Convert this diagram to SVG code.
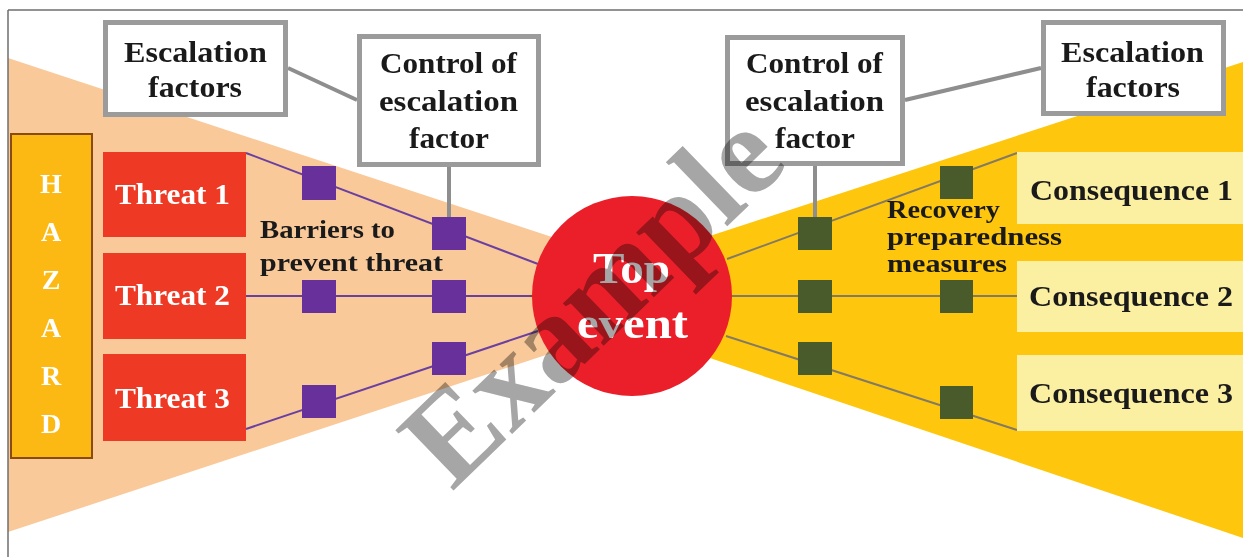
<svg xmlns="http://www.w3.org/2000/svg" width="1243" height="557" viewBox="0 0 1243 557">
<style>
  .t { font-family: "Liberation Serif", "Times New Roman", serif; font-weight: bold; }
  .blk { fill: #1a1a1a; }
  .wht { fill: #ffffff; }
  .gbox { fill: #ffffff; stroke: #9b9b9b; stroke-width: 5; }
  .gline { stroke: #8e8e8e; stroke-width: 4; fill: none; }
  .pline { stroke: #6b3fa0; stroke-width: 2; fill: none; }
  .oline { stroke: #847a62; stroke-width: 2; fill: none; }
  .psq { fill: #67309b; }
  .osq { fill: #4a5b2b; }
  .threat { fill: #ee3a24; }
  .cons { fill: #fbefa2; }
</style>
<rect x="0" y="0" width="1243" height="557" fill="#ffffff"/>
<g id="background">
  <polygon points="8,58 728,295 8,532" fill="#f9c99a"/>
  <polygon points="1243,62 526,296 1243,538" fill="#fec70d"/>
  <line x1="8" y1="10" x2="1243" y2="10" stroke="#6e6e6e" stroke-width="1.5"/>
  <line x1="8" y1="10" x2="8" y2="557" stroke="#6e6e6e" stroke-width="1.5"/>
</g>
<g id="connectors">
  <line class="gline" x1="288" y1="68" x2="357" y2="100"/>
  <line class="gline" x1="449" y1="166" x2="449" y2="218"/>
  <line class="gline" x1="905" y1="100" x2="1041" y2="68"/>
  <line class="gline" x1="815" y1="164" x2="815" y2="218"/>
  <line class="pline" x1="246" y1="153" x2="538" y2="264"/>
  <line class="pline" x1="246" y1="296" x2="534" y2="296"/>
  <line class="pline" x1="246" y1="429" x2="538" y2="331"/>
  <line class="oline" x1="727" y1="259" x2="1017" y2="153"/>
  <line class="oline" x1="731" y1="296" x2="1017" y2="296"/>
  <line class="oline" x1="726" y1="336" x2="1017" y2="430"/>
</g>
<g id="hazard">
  <rect x="11" y="134" width="81" height="324" fill="#fdb913" stroke="#8a4b12" stroke-width="2"/>
  <g class="t wht" font-size="28" text-anchor="middle">
    <text x="51" y="193">H</text>
    <text x="51" y="241">A</text>
    <text x="51" y="289">Z</text>
    <text x="51" y="337">A</text>
    <text x="51" y="385">R</text>
    <text x="51" y="433">D</text>
  </g>
</g>
<g id="threat1">
  <rect class="threat" x="103" y="152" width="143" height="85"/>
  <text class="t wht" x="115" y="204" font-size="30" textLength="115" lengthAdjust="spacingAndGlyphs">Threat 1</text>
</g>
<g id="threat2">
  <rect class="threat" x="103" y="253" width="143" height="86"/>
  <text class="t wht" x="115" y="305" font-size="30" textLength="115" lengthAdjust="spacingAndGlyphs">Threat 2</text>
</g>
<g id="threat3">
  <rect class="threat" x="103" y="354" width="143" height="87"/>
  <text class="t wht" x="115" y="408" font-size="30" textLength="115" lengthAdjust="spacingAndGlyphs">Threat 3</text>
</g>
<g id="barriers">
  <rect class="psq" x="302" y="166" width="34" height="34"/>
  <rect class="psq" x="432" y="217" width="34" height="33"/>
  <rect class="psq" x="302" y="280" width="34" height="33"/>
  <rect class="psq" x="432" y="280" width="34" height="33"/>
  <rect class="psq" x="302" y="385" width="34" height="33"/>
  <rect class="psq" x="432" y="342" width="34" height="33"/>
</g>
<g id="barriers-label">
  <text class="t blk" x="260" y="238" font-size="26" textLength="135" lengthAdjust="spacingAndGlyphs">Barriers to</text>
  <text class="t blk" x="260" y="271" font-size="26" textLength="183" lengthAdjust="spacingAndGlyphs">prevent threat</text>
</g>
<g id="recovery">
  <rect class="osq" x="798" y="217" width="34" height="33"/>
  <rect class="osq" x="940" y="166" width="33" height="33"/>
  <rect class="osq" x="798" y="280" width="34" height="33"/>
  <rect class="osq" x="940" y="280" width="33" height="33"/>
  <rect class="osq" x="798" y="342" width="34" height="33"/>
  <rect class="osq" x="940" y="386" width="33" height="33"/>
</g>
<g id="recovery-label">
  <text class="t blk" x="887" y="218" font-size="25" textLength="113" lengthAdjust="spacingAndGlyphs">Recovery</text>
  <text class="t blk" x="887" y="245" font-size="25" textLength="175" lengthAdjust="spacingAndGlyphs">preparedness</text>
  <text class="t blk" x="887" y="272" font-size="25" textLength="120" lengthAdjust="spacingAndGlyphs">measures</text>
</g>
<g id="escalation-left">
  <rect class="gbox" x="105.5" y="22.5" width="180" height="92"/>
  <text class="t blk" x="124" y="62" font-size="30" textLength="143" lengthAdjust="spacingAndGlyphs">Escalation</text>
  <text class="t blk" x="148" y="97" font-size="30" textLength="94" lengthAdjust="spacingAndGlyphs">factors</text>
</g>
<g id="control-left">
  <rect class="gbox" x="359.5" y="36.5" width="179" height="128"/>
  <text class="t blk" x="380" y="73" font-size="29" textLength="137" lengthAdjust="spacingAndGlyphs">Control of</text>
  <text class="t blk" x="379" y="111" font-size="29" textLength="139" lengthAdjust="spacingAndGlyphs">escalation</text>
  <text class="t blk" x="409" y="148" font-size="29" textLength="80" lengthAdjust="spacingAndGlyphs">factor</text>
</g>
<g id="control-right">
  <rect class="gbox" x="727.5" y="37.5" width="175" height="126"/>
  <text class="t blk" x="746" y="73" font-size="29" textLength="137" lengthAdjust="spacingAndGlyphs">Control of</text>
  <text class="t blk" x="745" y="111" font-size="29" textLength="139" lengthAdjust="spacingAndGlyphs">escalation</text>
  <text class="t blk" x="775" y="148" font-size="29" textLength="80" lengthAdjust="spacingAndGlyphs">factor</text>
</g>
<g id="escalation-right">
  <rect class="gbox" x="1043.5" y="22.5" width="180" height="91"/>
  <text class="t blk" x="1061" y="62" font-size="30" textLength="143" lengthAdjust="spacingAndGlyphs">Escalation</text>
  <text class="t blk" x="1086" y="97" font-size="30" textLength="94" lengthAdjust="spacingAndGlyphs">factors</text>
</g>
<g id="consequence1">
  <rect class="cons" x="1017" y="152" width="226" height="72"/>
  <text class="t blk" x="1030" y="200" font-size="29" textLength="203" lengthAdjust="spacingAndGlyphs">Consequence 1</text>
</g>
<g id="consequence2">
  <rect class="cons" x="1017" y="261" width="226" height="71"/>
  <text class="t blk" x="1029" y="306" font-size="29" textLength="204" lengthAdjust="spacingAndGlyphs">Consequence 2</text>
</g>
<g id="consequence3">
  <rect class="cons" x="1017" y="355" width="226" height="76"/>
  <text class="t blk" x="1029" y="403" font-size="29" textLength="204" lengthAdjust="spacingAndGlyphs">Consequence 3</text>
</g>
<g id="top-event">
  <circle cx="632" cy="296" r="100" fill="#eb1f2a"/>
  <text class="t wht" x="593" y="283" font-size="44" textLength="77" lengthAdjust="spacingAndGlyphs">Top</text>
  <text class="t wht" x="577" y="338" font-size="44" textLength="111" lengthAdjust="spacingAndGlyphs">event</text>
</g>
<g id="watermark" style="mix-blend-mode: multiply">
  <text class="t" fill="#a6a6a6" font-size="128" transform="translate(452,492) rotate(-44)" textLength="470" lengthAdjust="spacingAndGlyphs">Example</text>
</g>
</svg>
